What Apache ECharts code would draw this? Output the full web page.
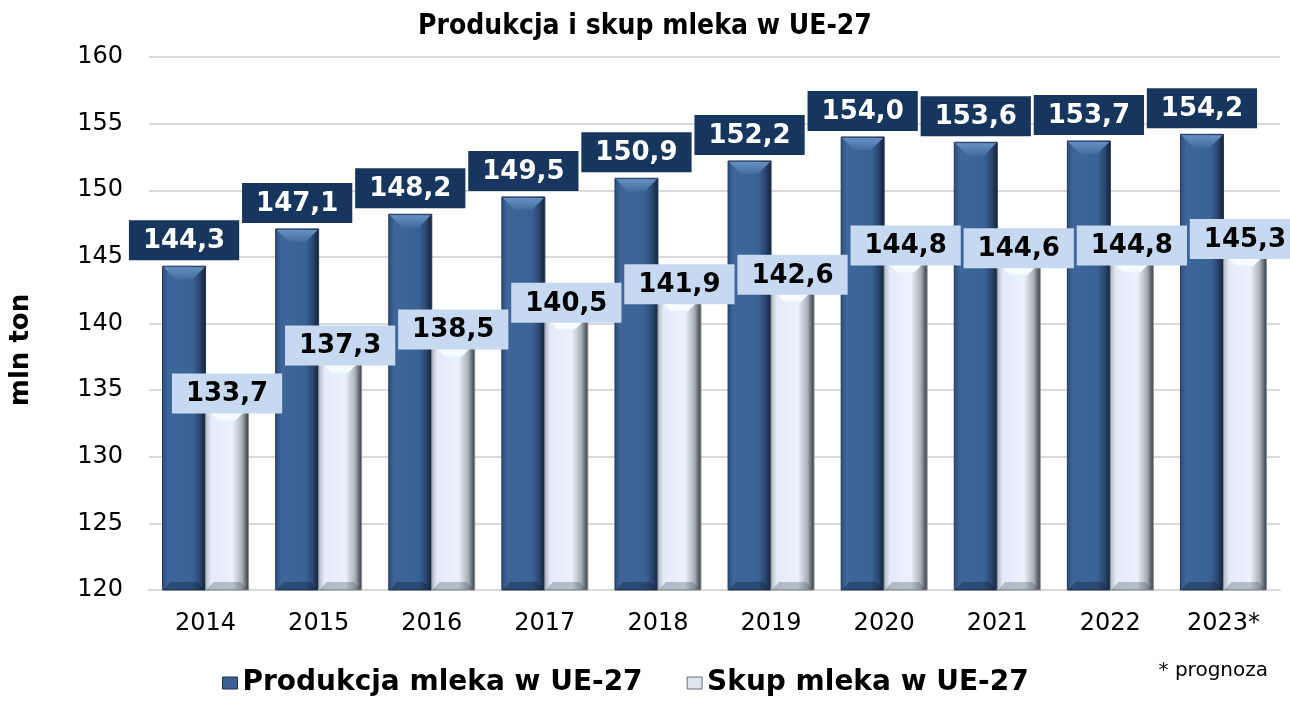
<!DOCTYPE html>
<html>
<head>
<meta charset="utf-8">
<script src="https://cdn.jsdelivr.net/npm/echarts@6/dist/echarts.min.js"></script>
<style>
  html, body { margin: 0; padding: 0; background: #fff; }
  #chart { width: 1290px; height: 706px; }
</style>
</head>
<body>
<div id="chart"></div>
<script>
// dane
const years = ['2014', '2015', '2016', '2017', '2018', '2019', '2020', '2021', '2022', '2023*']
const produkcja = [144.3, 147.1, 148.2, 149.5, 150.9, 152.2, 154.0, 153.6, 153.7, 154.2]
const skup = [133.7, 137.3, 138.5, 140.5, 141.9, 142.6, 144.8, 144.6, 144.8, 145.3]
const yTicks = [120, 125, 130, 135, 140, 145, 150, 155, 160]

const font = 'DejaVu Sans, Verdana, sans-serif'
const fmt = v => v.toFixed(1).replace('.', ',')

const chart = echarts.init(document.getElementById('chart'))

// wygląd słupków "3D" (fazowanie jak w Excelu)
const styles = {
  dark: {
    body: [['#2b4b78', 0], ['#3e669a', 0.14], ['#3b6295', 0.7], ['#2a4670', 0.86], ['#131f31', 1]],
    top: ['#6790c3', '#436c9f'],
    bottom: 'rgba(10,25,50,0.35)',
    border: '#22385a',
    label: { fill: '#fff', bg: '#17365d', dist: 6 },
    side: -1
  },
  light: {
    body: [['#aeb6bf', 0], ['#e2ebf7', 0.14], ['#eaf2fd', 0.62], ['#a9b0b8', 0.84], ['#2f3337', 1]],
    top: ['#ffffff', '#f4f8fe'],
    bottom: 'rgba(60,70,80,0.3)',
    border: '#8a9098',
    label: { fill: '#000', bg: '#c6d9f1', dist: -6 },
    side: 0
  }
}

function grad(stops) {
  return new echarts.graphic.LinearGradient(0, 0, 1, 0, stops.map(s => ({ color: s[0], offset: s[1] })))
}

function makeRender(st) {
  return function (params, api) {
    const cat = api.value(0)
    const val = api.value(1)
    const band = api.size([1, 0])[0]
    const w = band * 0.76 / 2
    const top = api.coord([cat, val])
    const base = api.coord([cat, yTicks[0]])
    const x0 = top[0] + st.side * w
    const x1 = x0 + w
    const y0 = top[1]
    const y1 = base[1]
    const bt = Math.min(13, (y1 - y0) / 2)
    const bb = Math.min(8, (y1 - y0) / 2)
    return {
      type: 'group',
      children: [
        {
          type: 'rect',
          shape: { x: x0, y: y0, width: w, height: y1 - y0 },
          style: { fill: grad(st.body), stroke: st.border, lineWidth: 1 }
        },
        {
          type: 'polygon',
          shape: { points: [[x0 + 1, y0 + 1], [x1 - 1, y0 + 1], [x1 - bt, y0 + bt], [x0 + bt, y0 + bt]] },
          style: { fill: new echarts.graphic.LinearGradient(0, 0, 0, 1, [{ offset: 0, color: st.top[0] }, { offset: 1, color: st.top[1] }]) }
        },
        {
          type: 'polygon',
          shape: { points: [[x0 + 1, y1], [x1 - 1, y1], [x1 - bb, y1 - bb], [x0 + bb, y1 - bb]] },
          style: { fill: st.bottom }
        },
        {
          type: 'text',
          z2: 100,
          x: (x0 + x1) / 2,
          y: y0 - st.label.dist,
          style: {
            text: fmt(val),
            font: 'bold 26px ' + font,
            fill: st.label.fill,
            backgroundColor: st.label.bg,
            padding: [8, 14, 6, 14],
            align: 'center',
            verticalAlign: 'bottom'
          }
        }
      ]
    }
  }
}

const option = {
  animation: false,
  title: {
    text: 'Produkcja i skup mleka w UE-27',
    left: 'center',
    top: 8,
    textStyle: { fontFamily: 'DejaVu Sans Condensed, ' + font, fontWeight: 'bold', fontSize: 28, color: '#000' }
  },
  legend: {
    bottom: 4,
    left: 217,
    itemWidth: 15,
    itemHeight: 12,
    itemGap: 44,
    textStyle: { fontFamily: font, fontWeight: 'bold', fontSize: 28, color: '#000' },
    data: [
      { name: 'Produkcja mleka w UE-27', icon: 'rect', itemStyle: { color: '#3a6093', borderColor: '#1e3350', borderWidth: 1 } },
      { name: 'Skup mleka w UE-27', icon: 'rect', itemStyle: { color: '#dde4ec', borderColor: '#6a7078', borderWidth: 1 } }
    ]
  },
  grid: { left: 149, right: 10, top: 57, bottom: 116 },
  xAxis: {
    type: 'category',
    data: years,
    axisLine: { lineStyle: { color: '#d9d9d9', width: 2 } },
    axisTick: { show: false },
    axisLabel: { fontFamily: font, fontSize: 24, color: '#000', margin: 22 }
  },
  yAxis: {
    type: 'value',
    min: yTicks[0],
    max: yTicks[yTicks.length - 1],
    interval: 5,
    axisLine: { show: false },
    axisTick: { show: false },
    splitLine: { lineStyle: { color: '#d9d9d9', width: 2 } },
    axisLabel: { fontFamily: font, fontSize: 24, color: '#000', margin: 26 }
  },
  graphic: [
    {
      type: 'text',
      x: 8,
      y: 350,
      rotation: Math.PI / 2,
      style: {
        text: 'mln ton',
        font: 'bold 26px ' + font,
        fill: '#000',
        align: 'center',
        verticalAlign: 'top'
      }
    },
    {
      type: 'text',
      right: 22,
      top: 661,
      style: { text: '* prognoza', font: '20px ' + font, fill: '#000' }
    }
  ],
  series: [
    {
      name: 'Produkcja mleka w UE-27',
      type: 'custom',
      renderItem: makeRender(styles.dark),
      encode: { x: 0, y: 1 },
      data: produkcja.map((v, i) => [i, v])
    },
    {
      name: 'Skup mleka w UE-27',
      type: 'custom',
      renderItem: makeRender(styles.light),
      encode: { x: 0, y: 1 },
      data: skup.map((v, i) => [i, v])
    }
  ]
}

chart.setOption(option)
</script>
</body>
</html>
